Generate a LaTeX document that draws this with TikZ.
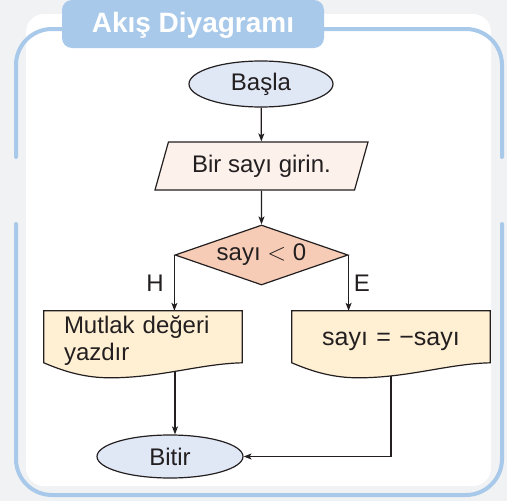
\documentclass[tikz,border=0pt]{standalone}
\usepackage{fontspec}
\setmainfont{Liberation Sans}
\usetikzlibrary{shapes.geometric,arrows.meta,backgrounds,calc}

\definecolor{zemin}{HTML}{F1F2F4}
\definecolor{mavi}{HTML}{A8C9EA}
\definecolor{cizgi}{HTML}{231F20}
\definecolor{uçrenk}{HTML}{E0E7F5}
\definecolor{girdirenk}{HTML}{FCF1EB}
\definecolor{kararrenk}{HTML}{F7CCB6}
\definecolor{belgerenk}{HTML}{FFF0D3}

\newcommand{\belgeyol}[1]{(#1.north west) -- (#1.north east) -- ($(#1.north east)+(0,52)$)
  .. controls +(-42,1) and +(50,0) .. ($(#1.north east)+(-132,67)$)
  .. controls +(-25,0) and +(21,9) .. ($(#1.north west)+(0,52)$) -- cycle}

\begin{document}
\begin{tikzpicture}[x=1pt,y=-1pt,
  every node/.style={font=\fontsize{24}{27}\selectfont,text=cizgi},
  ok/.style={draw=cizgi,line width=1.2pt,-{Stealth[length=8pt,width=6pt,inset=2pt]}},
  uc/.style={ellipse,draw=cizgi,line width=1.2pt,fill=uçrenk,minimum width=144pt,minimum height=46pt,inner sep=0pt},
  girdi/.style={trapezium,trapezium left angle=59,trapezium right angle=121,trapezium stretches body,
    draw=cizgi,line width=1.2pt,fill=girdirenk,minimum width=213pt,minimum height=48pt,inner sep=0pt},
  karar/.style={diamond,aspect=2.88,draw=cizgi,line width=1.2pt,fill=kararrenk,minimum width=173pt,minimum height=60pt,inner sep=0pt},
  belge/.style={rectangle,minimum width=198pt,minimum height=60pt,inner xsep=20pt,inner ysep=0pt,text width=158pt},
  kenar/.style={draw=mavi,line width=4pt,line cap=round,rounded corners=36pt}]
\useasboundingbox (0,0) rectangle (507,501);

\node [text=white,font=\bfseries\fontsize{28}{30}\selectfont] (baslik) at (193,25) {Akış Diyagramı};

\node [uc] (basla) at (261,84) {Başla};
\node [girdi] (giris) at (261.5,166) {Bir sayı girin.};
\node [karar] (kosul) at (261.5,255) {sayı $<$ 0};
\node [belge,align=left] (mutlak) at (143,341) {Mutlak değeri\\yazdır};
\node [belge,align=center,font=\fontsize{25}{27}\selectfont] (ters) at (391,341) {sayı = −sayı};
\node [uc,minimum width=146pt,minimum height=43pt] (bitir) at (170,456.5) {Bitir};
\node (hayir) at (155,283) {H};
\node (evet) at (362,283) {E};

\coordinate (mutlakalt) at (175,371);
\coordinate (tersalt) at (391,376);

\draw[ok] (basla) -- (giris);
\draw[ok] (giris) -- (kosul);
\draw[ok] (kosul.west) -- (kosul.west |- mutlak.north);
\draw[ok] (kosul.east) -- (kosul.east |- ters.north);
\draw[ok] (mutlakalt) -- (mutlakalt |- bitir.north);
\draw[ok] (tersalt) |- (bitir.east);

\begin{scope}[on background layer]
\fill[zemin] (0,0) rectangle (507,501);
\fill[white,rounded corners=18pt] (26,14) rectangle (491,486);
\draw[kenar] (16,157) -- (16,29) -- (502,29) -- (502,157);
\draw[kenar] (16,224) -- (16,495) -- (502,495) -- (502,224);
\fill[mavi,rounded corners=10pt] (62,0) rectangle (324,48);
\filldraw[draw=cizgi,line width=1.2pt,fill=belgerenk] \belgeyol{mutlak};
\filldraw[draw=cizgi,line width=1.2pt,fill=belgerenk] \belgeyol{ters};
\end{scope}
\end{tikzpicture}
\end{document}
